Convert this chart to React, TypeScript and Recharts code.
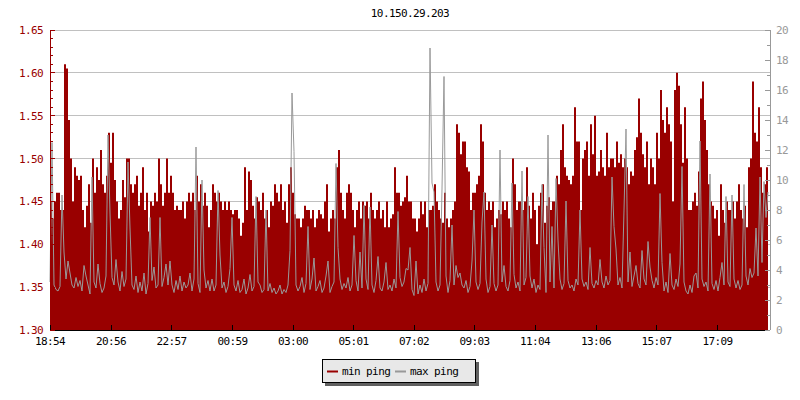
import React from 'react';
import { ComposedChart, Area, Line, XAxis, YAxis, CartesianGrid } from 'recharts';

const RED = '#990000';
const GRAY = '#999999';
const FONT = '"DejaVu Sans Mono", monospace';

// min ping (ms), one sample every 4 minutes starting 18:54
const minPing = [
  1.45, 1.43, 1.45, 1.46, 1.46, 1.44, 1.44, 1.61, 1.605, 1.545,
  1.50, 1.45, 1.49, 1.48, 1.475, 1.48, 1.44, 1.42, 1.445, 1.47,
  1.425, 1.50, 1.46, 1.49, 1.475, 1.51, 1.47, 1.46, 1.48, 1.53,
  1.495, 1.53, 1.475, 1.45, 1.43, 1.44, 1.475, 1.455, 1.50, 1.50,
  1.47, 1.46, 1.47, 1.48, 1.445, 1.46, 1.49, 1.44, 1.46, 1.415,
  1.45, 1.445, 1.46, 1.45, 1.50, 1.47, 1.445, 1.46, 1.50, 1.46,
  1.48, 1.46, 1.44, 1.445, 1.44, 1.44, 1.45, 1.43, 1.45, 1.46,
  1.45, 1.46, 1.44, 1.48, 1.45, 1.47, 1.445, 1.46, 1.445, 1.42,
  1.44, 1.47, 1.46, 1.45, 1.46, 1.45, 1.44, 1.45, 1.44, 1.45,
  1.44, 1.435, 1.44, 1.44, 1.43, 1.41, 1.425, 1.49, 1.44, 1.485,
  1.475, 1.445, 1.43, 1.455, 1.45, 1.44, 1.46, 1.43, 1.44, 1.42,
  1.45, 1.445, 1.47, 1.46, 1.45, 1.47, 1.44, 1.45, 1.425, 1.47,
  1.49, 1.46, 1.435, 1.43, 1.43, 1.42, 1.43, 1.445, 1.44, 1.44,
  1.43, 1.44, 1.42, 1.43, 1.44, 1.435, 1.43, 1.45, 1.47, 1.415,
  1.43, 1.44, 1.43, 1.49, 1.51, 1.46, 1.44, 1.43, 1.46, 1.47,
  1.46, 1.44, 1.42, 1.44, 1.45, 1.43, 1.45, 1.445, 1.45, 1.43,
  1.46, 1.44, 1.43, 1.44, 1.45, 1.43, 1.44, 1.42, 1.45, 1.42,
  1.43, 1.435, 1.49, 1.46, 1.46, 1.445, 1.45, 1.455, 1.48, 1.45,
  1.45, 1.43, 1.43, 1.415, 1.43, 1.45, 1.435, 1.45, 1.42, 1.44,
  1.44, 1.445, 1.47, 1.45, 1.44, 1.43, 1.425, 1.46, 1.43, 1.42,
  1.43, 1.44, 1.45, 1.54, 1.53, 1.505, 1.52, 1.52, 1.49, 1.485,
  1.44, 1.46, 1.46, 1.47, 1.48, 1.54, 1.52, 1.46, 1.44, 1.45,
  1.44, 1.45, 1.42, 1.43, 1.44, 1.435, 1.45, 1.44, 1.45, 1.43,
  1.42, 1.50, 1.47, 1.44, 1.45, 1.45, 1.44, 1.45, 1.49, 1.445,
  1.43, 1.46, 1.44, 1.40, 1.445, 1.46, 1.47, 1.425, 1.445, 1.455,
  1.44, 1.45, 1.45, 1.48, 1.47, 1.51, 1.54, 1.49, 1.48, 1.475,
  1.47, 1.48, 1.56, 1.52, 1.52, 1.44, 1.50, 1.51, 1.52, 1.48,
  1.54, 1.505, 1.55, 1.48, 1.485, 1.51, 1.49, 1.48, 1.53, 1.49,
  1.50, 1.50, 1.49, 1.52, 1.495, 1.505, 1.49, 1.50, 1.49, 1.47,
  1.485, 1.48, 1.51, 1.525, 1.57, 1.53, 1.505, 1.49, 1.52, 1.47,
  1.50, 1.49, 1.47, 1.53, 1.50, 1.58, 1.545, 1.53, 1.56, 1.54,
  1.52, 1.45, 1.58, 1.60, 1.585, 1.54, 1.495, 1.56, 1.50, 1.44,
  1.44, 1.45, 1.46, 1.445, 1.485, 1.57, 1.59, 1.545, 1.51, 1.47,
  1.45, 1.445, 1.43, 1.44, 1.41, 1.47, 1.44, 1.425, 1.45, 1.44,
  1.44, 1.45, 1.43, 1.45, 1.47, 1.44, 1.43, 1.445, 1.42, 1.49,
  1.50, 1.59, 1.53, 1.52, 1.56, 1.49, 1.46, 1.47, 1.49, 1.46,
];

// max ping (ms), same samples
const maxPing = [
  3.2, 12.5, 3.0, 2.7, 2.6, 2.9, 9.0, 5.2, 3.4, 4.6,
  3.8, 3.0, 2.8, 3.5, 2.9, 3.3, 2.6, 4.3, 3.6, 3.0,
  2.4, 10.2, 3.2, 2.8, 4.4, 3.1, 2.5, 2.8, 3.6, 13.0,
  7.8, 3.5, 3.0, 4.7, 3.2, 2.6, 3.9, 2.9, 3.4, 11.2,
  6.8, 3.0, 2.7, 3.6, 2.5, 3.2, 2.6, 3.8, 2.4, 3.1,
  7.5, 3.3, 4.2, 2.8, 3.0, 7.5, 2.9, 3.5, 4.4, 3.0,
  4.6, 3.0, 2.5, 3.3, 2.7, 3.6, 2.6, 3.2, 2.8, 3.0,
  3.8, 2.6, 3.4, 12.2, 3.1, 2.5, 10.0, 4.0, 2.8, 3.3,
  2.6, 3.4, 2.6, 3.0, 9.3, 5.0, 2.8, 3.2, 2.5, 2.9,
  4.1, 7.5, 3.0, 2.6, 3.3, 2.5, 2.7, 3.4, 2.4, 2.8,
  3.7, 2.6, 2.9, 8.9, 3.2, 3.0, 2.5, 2.7, 8.0, 2.6,
  3.1, 2.5, 2.8, 2.4, 2.6, 3.0, 2.4, 2.7, 2.5, 3.0,
  5.3, 15.8, 11.9, 3.0, 2.6, 2.9, 3.5, 2.5, 3.1, 6.9,
  2.7, 3.4, 4.8, 2.6, 2.9, 3.3, 2.5, 2.8, 3.6, 4.6,
  2.5, 2.9, 3.2, 11.1, 5.5, 3.4, 2.7, 3.1, 2.8, 3.5,
  2.6, 3.0, 6.3, 3.3, 2.6, 5.2, 2.8, 8.3, 3.4, 2.7,
  8.2, 3.0, 2.5, 3.3, 4.9, 2.8, 2.6, 3.2, 4.5, 2.7,
  3.0, 2.6, 3.4, 2.8, 7.9, 3.5, 2.9, 3.2, 4.1, 4.0,
  5.5, 2.7, 2.3, 4.6, 2.4, 3.0, 2.5, 3.4, 2.6, 3.1,
  18.8, 9.8, 9.2, 3.2, 2.6, 3.0, 9.4, 16.9, 3.6, 2.5,
  3.3, 7.0, 3.0, 4.3, 3.5, 3.8, 3.0, 2.8, 3.3, 2.5,
  2.9, 4.6, 8.0, 3.2, 2.7, 3.1, 7.2, 9.2, 3.4, 2.5,
  2.9, 7.0, 3.1, 2.6, 3.0, 12.0, 3.2, 4.3, 2.9, 2.6,
  3.3, 9.8, 3.7, 2.8, 3.2, 2.6, 10.6, 3.0, 3.5, 8.9,
  3.6, 2.8, 3.4, 2.5, 3.0, 2.7, 9.7, 5.5, 2.5, 13.0,
  3.2, 6.9, 2.8, 10.1, 6.0, 3.4, 2.7, 3.1, 8.6, 3.3,
  2.8, 3.0, 2.6, 3.4, 3.0, 8.0, 3.4, 2.9, 3.2, 2.7,
  5.5, 3.1, 2.8, 3.3, 3.0, 4.7, 3.2, 2.8, 3.6, 3.0,
  3.3, 10.2, 6.9, 5.4, 3.0, 3.5, 2.8, 8.0, 13.4, 3.2,
  5.2, 2.9, 3.6, 4.3, 3.1, 2.8, 5.3, 3.4, 3.0, 5.9,
  4.2, 3.3, 2.8, 3.5, 3.0, 9.1, 4.5, 2.6, 3.2, 2.5,
  5.1, 3.0, 2.7, 3.4, 2.9, 4.4, 10.9, 3.2, 2.6, 2.4,
  3.0, 2.5, 3.6, 3.8, 2.8, 12.6, 3.4, 2.9, 3.2, 2.6,
  10.4, 3.1, 2.7, 3.3, 2.6, 3.5, 4.5, 3.0, 8.9, 3.2,
  2.9, 9.0, 3.4, 2.8, 3.3, 2.7, 3.0, 9.7, 3.6, 3.0,
  4.1, 3.5, 3.8, 6.8, 3.6, 10.2, 4.5, 9.9, 7.5, 9.2,
];

const SAMPLE_MINUTES = 4;

// x ticks: minutes since 18:54 and their labels
const timeTicks = [0, 122, 243, 365, 486, 607, 728, 849, 970, 1092, 1213, 1335];
const timeLabels = ['18:54', '20:56', '22:57', '00:59', '03:00', '05:01', '07:02', '09:03', '11:04', '13:06', '15:07', '17:09'];

const leftTicks = Array.from({ length: 36 }, (_, k) => +(1.3 + k * 0.01).toFixed(2));
const rightTicks = Array.from({ length: 21 }, (_, k) => k);
const gridValues = [1.35, 1.4, 1.45, 1.5, 1.55, 1.6, 1.65];

const data = minPing.map((v, i) => ({ t: i * SAMPLE_MINUTES, min: v, max: maxPing[i] }));

const textStyle: React.CSSProperties = { fontFamily: FONT, fontSize: 11, letterSpacing: '-0.6px' };

const LeftTick = (props: any) => {
  const { x, y, payload } = props;
  const major = Math.round(payload.value * 100) % 5 === 0;
  return (
    <g>
      <line x1={x} x2={x + (major ? 5 : 3)} y1={y} y2={y} stroke={RED} />
      {major && (
        <text x={x - 7} y={y + 4} textAnchor="end" fill={RED} style={textStyle}>
          {payload.value.toFixed(2)}
        </text>
      )}
    </g>
  );
};

const RightTick = (props: any) => {
  const { x, y, payload } = props;
  const major = payload.value % 2 === 0;
  return (
    <g>
      <line x1={x - (major ? 5 : 3)} x2={x} y1={y} y2={y} stroke={GRAY} />
      {major && (
        <text x={x + 6} y={y + 4} textAnchor="start" fill={GRAY} style={textStyle}>
          {payload.value}
        </text>
      )}
    </g>
  );
};

const BottomTick = (props: any) => {
  const { x, y, payload } = props;
  const idx = timeTicks.indexOf(payload.value);
  return (
    <g>
      <line x1={x} x2={x} y1={y - 5} y2={y} stroke="#000" />
      <text x={x} y={y + 15} textAnchor="middle" fill="#000" style={textStyle}>
        {idx >= 0 ? timeLabels[idx] : ''}
      </text>
    </g>
  );
};

const App: React.FC = () => {
  return (
    <div style={{ position: 'absolute', left: 0, top: 0, width: 800, height: 400, background: '#fff' }}>
      <style>{`
        .recharts-wrapper line, .recharts-cartesian-grid line { shape-rendering: crispEdges; }
      `}</style>
      <ComposedChart width={800} height={400} data={data} margin={{ top: 30, right: 0, bottom: 40, left: 0 }}>
        <CartesianGrid yAxisId="left" vertical={false} horizontalValues={gridValues} stroke="#c0c0c0" />
        <XAxis
          dataKey="t"
          type="number"
          domain={[0, 1440]}
          ticks={timeTicks}
          interval={0}
          height={30}
          tickSize={0}
          tickMargin={0}
          tickLine={false}
          axisLine={{ stroke: '#000' }}
          tick={BottomTick}
        />
        <YAxis
          yAxisId="left"
          orientation="left"
          width={50}
          domain={[1.3, 1.65]}
          ticks={leftTicks}
          interval={0}
          allowDataOverflow
          tickSize={0}
          tickMargin={0}
          tickLine={false}
          axisLine={{ stroke: RED }}
          tick={LeftTick}
        />
        <YAxis
          yAxisId="right"
          orientation="right"
          width={30}
          domain={[0, 20]}
          ticks={rightTicks}
          interval={0}
          allowDataOverflow
          tickSize={0}
          tickMargin={0}
          tickLine={false}
          axisLine={{ stroke: GRAY }}
          tick={RightTick}
        />
        <Area
          yAxisId="left"
          dataKey="min"
          type="stepAfter"
          stroke="none"
          fill={RED}
          fillOpacity={1}
          dot={false}
          activeDot={false}
          isAnimationActive={false}
        />
        <Line
          yAxisId="right"
          dataKey="max"
          type="linear"
          stroke={GRAY}
          strokeWidth={1}
          dot={false}
          activeDot={false}
          isAnimationActive={false}
        />
      </ComposedChart>
      <svg width={800} height={400} style={{ position: 'absolute', left: 0, top: 0, pointerEvents: 'none' }}>
        <text x={410} y={17} textAnchor="middle" fill="#000" style={textStyle}>
          10.150.29.203
        </text>
        <rect x={325} y={362} width={154} height={24} fill="#606060" />
        <rect x={322.5} y={359.5} width={153} height={23} fill="#e8e8e8" stroke="#000" />
        <line x1={327} x2={338} y1={371.5} y2={371.5} stroke={RED} strokeWidth={2} />
        <text x={342} y={375} fill="#000" style={textStyle}>min ping</text>
        <line x1={395} x2={406} y1={371.5} y2={371.5} stroke={GRAY} strokeWidth={2} />
        <text x={410} y={375} fill="#000" style={textStyle}>max ping</text>
      </svg>
    </div>
  );
};

export default App;
